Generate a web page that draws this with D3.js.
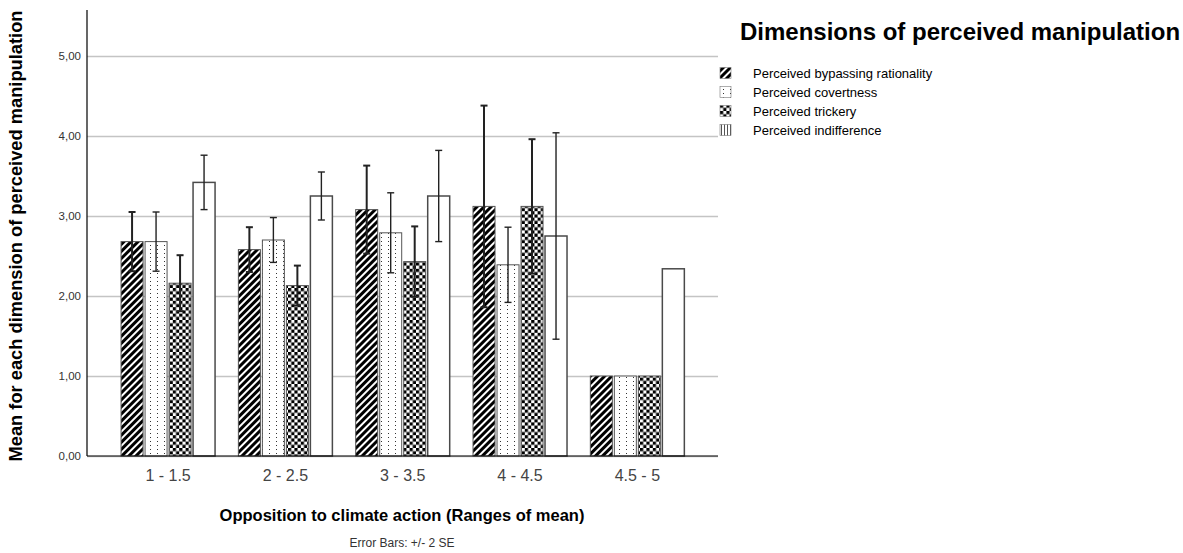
<!DOCTYPE html>
<html>
<head>
<meta charset="utf-8">
<script src="https://cdn.jsdelivr.net/npm/d3@7"></script>
<style>
  html, body { margin: 0; padding: 0; background: #fff; }
  svg { display: block; font-family: "Liberation Sans", Arial, sans-serif; }
</style>
</head>
<body>
<svg id="chart" width="1183" height="553"></svg>
<script>
// Ranges of the opposition score (x categories)
const categories = ["1 - 1.5", "2 - 2.5", "3 - 3.5", "4 - 4.5", "4.5 - 5"];

// Dimensions shown in each group
const series = [
  "Perceived bypassing rationality",
  "Perceived covertness",
  "Perceived trickery",
  "Perceived indifference"
];

// Group means per dimension
const bypassingMeans    = [2.68, 2.58, 3.08, 3.12, 1.00];
const covertnessMeans   = [2.68, 2.70, 2.79, 2.39, 1.00];
const trickeryMeans     = [2.16, 2.13, 2.43, 3.12, 1.00];
const indifferenceMeans = [3.42, 3.25, 3.25, 2.75, 2.34];

// Half-width of the error bars (2 SE); null where no bar is drawn
const bypassingErr    = [0.37, 0.28, 0.55, 1.26, null];
const covertnessErr   = [0.37, 0.28, 0.50, 0.47, null];
const trickeryErr     = [0.35, 0.25, 0.44, 0.84, null];
const indifferenceErr = [0.34, 0.30, 0.57, 1.29, null];

const yTicks = [0, 1, 2, 3, 4, 5];

const meansBySeries = [bypassingMeans, covertnessMeans, trickeryMeans, indifferenceMeans];
const errBySeries   = [bypassingErr, covertnessErr, trickeryErr, indifferenceErr];
const fills = ["url(#hatch)", "url(#dots)", "url(#checks)", "#ffffff"];
const legendFills = ["url(#hatch)", "url(#dots)", "url(#checks)", "url(#vlines)"];
const errWidth = [2, 1.4, 2, 1.4];

const svg = d3.select("#chart");

// ---- fill patterns ----
const defs = svg.append("defs");

const hatch = defs.append("pattern")
  .attr("id", "hatch").attr("patternUnits", "userSpaceOnUse")
  .attr("width", 5).attr("height", 5)
  .attr("patternTransform", "rotate(45)");
hatch.append("rect").attr("width", 5).attr("height", 5).attr("fill", "#000");
hatch.append("rect").attr("x", 0).attr("width", 2).attr("height", 5).attr("fill", "#fff");

const dots = defs.append("pattern")
  .attr("id", "dots").attr("patternUnits", "userSpaceOnUse")
  .attr("width", 7).attr("height", 4);
dots.append("rect").attr("width", 7).attr("height", 4).attr("fill", "#fff");
dots.append("rect").attr("x", 3).attr("y", 1).attr("width", 1).attr("height", 1).attr("fill", "#333");

const checks = defs.append("pattern")
  .attr("id", "checks").attr("patternUnits", "userSpaceOnUse")
  .attr("width", 6.4).attr("height", 6.4);
checks.append("rect").attr("width", 6.4).attr("height", 6.4).attr("fill", "#fff");
checks.append("rect").attr("width", 3.2).attr("height", 3.2).attr("fill", "#000");
checks.append("rect").attr("x", 3.2).attr("y", 3.2).attr("width", 3.2).attr("height", 3.2).attr("fill", "#000");

const vlines = defs.append("pattern")
  .attr("id", "vlines").attr("patternUnits", "userSpaceOnUse")
  .attr("width", 3).attr("height", 3);
vlines.append("rect").attr("width", 3).attr("height", 3).attr("fill", "#fff");
vlines.append("rect").attr("x", 1).attr("width", 1).attr("height", 3).attr("fill", "#555");

// ---- scales ----
const plotLeft = 87, plotRight = 718, plotBottom = 456, plotTop = 10;

const x = d3.scaleBand()
  .domain(categories)
  .range([109.4, 696.0])
  .paddingInner(0).paddingOuter(0);

const groupWidth = 94;
const xs = d3.scaleBand()
  .domain(series)
  .range([0, groupWidth])
  .paddingInner(2 / 24).paddingOuter(0);

const y = d3.scaleLinear()
  .domain([0, 5.575])
  .range([plotBottom, plotTop]);

// ---- gridlines + y axis labels ----
const yAxis = d3.axisLeft(y)
  .tickValues(yTicks)
  .tickSizeInner(-(plotRight - plotLeft))
  .tickSizeOuter(0)
  .tickPadding(6)
  .tickFormat(d => d3.format(".2f")(d).replace(".", ","));

const gy = svg.append("g")
  .attr("transform", `translate(${plotLeft},0)`)
  .call(yAxis);
gy.select(".domain").remove();
gy.selectAll(".tick line").attr("stroke", "#c4c4c4").attr("stroke-width", 1.4);
gy.selectAll(".tick text")
  .attr("fill", "#333").style("font-size", "11.5px")
  .style("font-family", "'Liberation Sans', Arial, sans-serif");

// ---- bars ----
const rows = [];
categories.forEach((c, ci) => {
  series.forEach((s, si) => {
    rows.push({ cat: c, ser: s, si, mean: meansBySeries[si][ci], err: errBySeries[si][ci] });
  });
});

const groupOffset = (x.bandwidth() - groupWidth) / 2;

const barG = svg.append("g");
barG.selectAll("rect.bar")
  .data(rows)
  .join("rect")
  .attr("class", "bar")
  .attr("x", d => x(d.cat) + groupOffset + xs(d.ser))
  .attr("width", xs.bandwidth())
  .attr("y", d => y(d.mean))
  .attr("height", d => y(0) - y(d.mean))
  .attr("fill", d => fills[d.si])
  .attr("stroke", d => d.si === 3 ? "#4a4a4a" : "#555")
  .attr("stroke-width", d => d.si === 3 ? 1.5 : 1);

// ---- error bars ----
const errRows = rows.filter(d => d.err != null);
const errG = svg.append("g");
const cx = d => x(d.cat) + groupOffset + xs(d.ser) + xs.bandwidth() / 2;
const capHalf = 3.5;

errG.selectAll("line.stem")
  .data(errRows).join("line")
  .attr("x1", cx).attr("x2", cx)
  .attr("y1", d => y(d.mean + d.err)).attr("y2", d => y(d.mean - d.err))
  .attr("stroke", "#222").attr("stroke-width", d => errWidth[d.si]);

errG.selectAll("line.capTop")
  .data(errRows).join("line")
  .attr("x1", d => cx(d) - capHalf).attr("x2", d => cx(d) + capHalf)
  .attr("y1", d => y(d.mean + d.err)).attr("y2", d => y(d.mean + d.err))
  .attr("stroke", "#222").attr("stroke-width", d => errWidth[d.si]);

errG.selectAll("line.capBot")
  .data(errRows).join("line")
  .attr("x1", d => cx(d) - capHalf).attr("x2", d => cx(d) + capHalf)
  .attr("y1", d => y(d.mean - d.err)).attr("y2", d => y(d.mean - d.err))
  .attr("stroke", "#222").attr("stroke-width", d => errWidth[d.si]);

// ---- axis lines ----
svg.append("line")
  .attr("x1", plotLeft).attr("x2", plotLeft)
  .attr("y1", y.range()[1]).attr("y2", y(0))
  .attr("stroke", "#000").attr("stroke-width", 1.2);
svg.append("line")
  .attr("x1", plotLeft).attr("x2", plotRight)
  .attr("y1", y(0)).attr("y2", y(0))
  .attr("stroke", "#000").attr("stroke-width", 1.2);

// ---- x axis labels ----
const xAxis = d3.axisBottom(x).tickSize(0).tickPadding(14);
const gx = svg.append("g")
  .attr("transform", `translate(0,${plotBottom})`)
  .call(xAxis);
gx.select(".domain").remove();
gx.selectAll(".tick text")
  .attr("fill", "#444").style("font-size", "16px")
  .style("font-family", "'Liberation Sans', Arial, sans-serif");

// ---- axis titles ----
svg.append("text")
  .attr("x", 402).attr("y", 521)
  .attr("text-anchor", "middle")
  .style("font-size", "16.5px").style("font-weight", "bold")
  .text("Opposition to climate action (Ranges of mean)");

svg.append("text")
  .attr("x", 402).attr("y", 547)
  .attr("text-anchor", "middle")
  .attr("fill", "#333")
  .style("font-size", "12px")
  .text("Error Bars: +/- 2 SE");

svg.append("text")
  .attr("transform", "translate(22,236) rotate(-90)")
  .attr("text-anchor", "middle")
  .style("font-size", "18.3px").style("font-weight", "bold")
  .text("Mean for each dimension of perceived manipulation");

// ---- legend ----
svg.append("text")
  .attr("x", 740).attr("y", 40)
  .style("font-size", "24px").style("font-weight", "bold")
  .text("Dimensions of perceived manipulation");

const legend = svg.append("g").attr("transform", "translate(720,73)");
const li = legend.selectAll("g")
  .data(series).join("g")
  .attr("transform", (d, i) => `translate(0,${i * 19})`);
li.append("rect")
  .attr("x", 0).attr("y", -5.5).attr("width", 11).attr("height", 11)
  .attr("fill", (d, i) => legendFills[i])
  .attr("stroke", "#777").attr("stroke-width", 0.6);
li.append("text")
  .attr("x", 33).attr("y", 0).attr("dy", "0.35em")
  .style("font-size", "13px")
  .text(d => d);
</script>
</body>
</html>
